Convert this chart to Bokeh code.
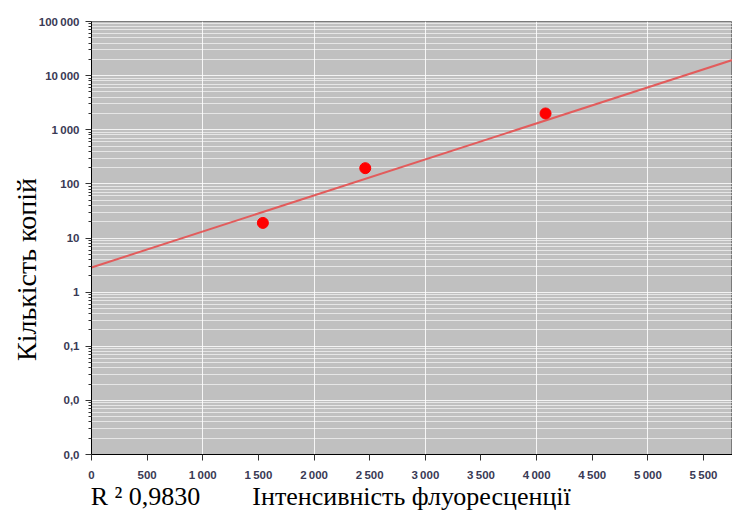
from bokeh.plotting import figure
from bokeh.models import Range1d, FixedTicker
from bokeh.embed import file_html
from bokeh.resources import INLINE

# ---- data ----
intensity = [1540, 2460, 4080]          # fluorescence intensity (x)
copies = [19, 195, 2000]                 # copy number (y, log)
trend_x = [0, 5760]                      # calibration line end points
trend_y = [2.85, 19500]
r2_text = "R \u00b2 0,9830"
x_title = "\u0406\u043d\u0442\u0435\u043d\u0441\u0438\u0432\u043d\u0456\u0441\u0442\u044c \u0444\u043b\u0443\u043e\u0440\u0435\u0441\u0446\u0435\u043d\u0446\u0456\u0457"
y_title = "\u041a\u0456\u043b\u044c\u043a\u0456\u0441\u0442\u044c \u043a\u043e\u043f\u0456\u0439"

x_ticks = [0, 500, 1000, 1500, 2000, 2500, 3000, 3500, 4000, 4500, 5000, 5500]
x_tick_labels = ["0", "500", "1\u2009000", "1\u2009500", "2\u2009000", "2\u2009500", "3\u2009000",
                 "3\u2009500", "4\u2009000", "4\u2009500", "5\u2009000", "5\u2009500"]
y_ticks = [0.001, 0.01, 0.1, 1, 10, 100, 1000, 10000, 100000]
y_tick_labels = ["0,0", "0,0", "0,1", "1", "10", "100", "1\u2009000", "10\u2009000", "100\u2009000"]

p = figure(width=732, height=513, y_axis_type="log",
           x_range=Range1d(0, 5760), y_range=Range1d(0.001, 100000),
           output_backend="svg", toolbar_location=None,
           min_border_left=91, min_border_right=0, min_border_top=21, min_border_bottom=55)

p.background_fill_color = "#c0c0c0"
p.border_fill_color = "white"
p.outline_line_color = "#7a7a7a"

# ticks
minor_y = [d * m for d in y_ticks[:-1] for m in range(2, 10)]
p.yaxis.ticker = FixedTicker(ticks=y_ticks, minor_ticks=minor_y)
p.yaxis.major_label_overrides = {t: l for t, l in zip(y_ticks, y_tick_labels)}
p.xaxis.ticker = FixedTicker(ticks=x_ticks)
p.xaxis.major_label_overrides = {t: l for t, l in zip(x_ticks, x_tick_labels)}

for ax in (p.xaxis[0], p.yaxis[0]):
    ax.axis_line_color = "black"
    ax.major_tick_line_color = "#333333"
    ax.minor_tick_line_color = "#333333"
    ax.major_tick_out = 6
    ax.major_tick_in = 0
    ax.minor_tick_out = 3
    ax.minor_tick_in = 0
    ax.major_label_text_font = "Liberation Sans"
    ax.major_label_text_font_size = "11.5px"
    ax.major_label_text_font_style = "bold"
    ax.major_label_text_color = "#3a3a55"
    ax.axis_label_text_font = "Liberation Serif"
    ax.axis_label_text_font_style = "normal"
    ax.axis_label_text_color = "black"
p.xaxis.minor_tick_line_color = None
p.xaxis.major_label_standoff = 8
p.yaxis.major_label_standoff = 6

# x title line: R^2 at the left, axis title further right (centred string, padded)
nb = "\u00a0"
p.xaxis.axis_label = r2_text.replace(" ", nb) + nb * 8 + x_title + nb * 25
p.xaxis.axis_label_text_font_size = "26px"
p.xaxis.axis_label_standoff = -2

# y title, shifted downward like the reference
p.yaxis.axis_label = y_title + nb * 9
p.yaxis.axis_label_text_font_size = "28px"
p.yaxis.axis_label_standoff = -6

# grids
p.xgrid.ticker = FixedTicker(ticks=[1000, 2000, 3000, 4000, 5000])
p.xgrid.grid_line_color = "white"
p.xgrid.grid_line_alpha = 0.85
p.ygrid.grid_line_color = "white"
p.ygrid.grid_line_alpha = 0.8
p.ygrid.minor_grid_line_color = "white"
p.ygrid.minor_grid_line_alpha = 0.6

# data
p.line(trend_x, trend_y, line_color="#e25c5c", line_width=2)
p.scatter(intensity, copies, size=11, fill_color="#ff0000", line_color="#ff0000")

open("out.html", "w").write(file_html(p, INLINE))
